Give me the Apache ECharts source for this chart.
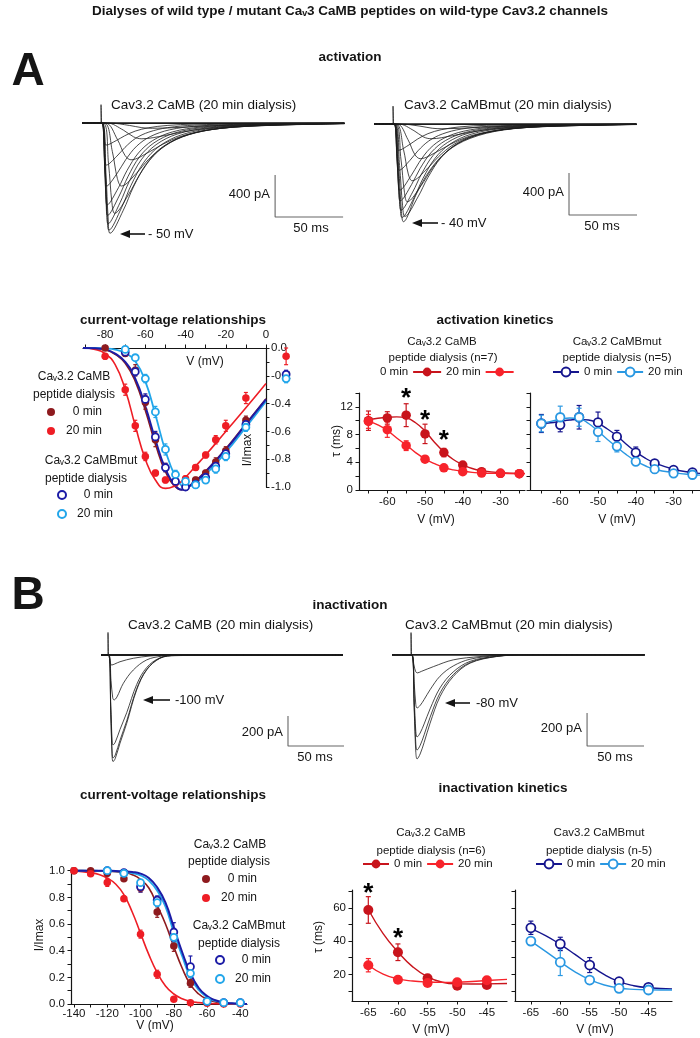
<!DOCTYPE html>
<html><head><meta charset="utf-8">
<script src="https://cdn.jsdelivr.net/npm/echarts@6.0.0/dist/echarts.min.js"></script>
<style>html,body{margin:0;padding:0;background:#fff}#c{width:700px;height:1038px}</style>
</head><body><div id="c"></div>
<script>
// ---------------- DATA ----------------
// Panel A traces, left (Cav3.2 CaMB), [time ms, current pA]
const trAL_m75 = [[-14,0],[6,0],[21,-23],[30,-44],[38,-50],[60,-40],[76,-29],[97,-18],[124,-11],[162,-5],[179,-4]];
const trAL_m70 = [[-14,0],[4.5,0],[16.5,-68],[24,-132],[30,-150],[46.7,-119],[59.2,-87],[75.9,-55],[96.6,-32],[125.9,-16],[167.7,-7],[179,-5]];
const trAL_m65 = [[-14,0],[3.3,0],[12.1,-158],[17.6,-308],[22,-350],[35.2,-277],[45.2,-203],[58.5,-128],[74.9,-75],[98.1,-38],[131.4,-17],[179,-6]];
const trAL_m60 = [[-14,0],[2.3,0],[8.3,-270],[12,-528],[15,-600],[26.3,-474],[34.8,-348],[46.1,-220],[60.1,-129],[79.9,-65],[108.2,-29],[158.8,-11],[179,-5]];
const trAL_m55 = [[-14,0],[1.5,0],[5.5,-387],[8,-757],[10,-860],[20.3,-679],[28.1,-499],[38.4,-315],[51.2,-185],[69.2,-94],[95,-42],[141.3,-15],[179,-4]];
const trAL_m50 = [[-14,0],[1,0],[3.6,-472],[5.3,-924],[6.6,-1050],[16.4,-830],[23.8,-609],[33.6,-384],[45.8,-226],[63,-114],[87.6,-51],[131.6,-19],[179,-5]];
const trAL_m45 = [[-14,0],[0.9,0],[3.2,-459],[4.6,-898],[5.8,-1020],[15.1,-806],[22.1,-592],[31.5,-373],[43,-219],[59.4,-111],[82.8,-50],[124.6,-18],[179,-4]];
const trAL_m40 = [[-14,0],[0.8,0],[2.9,-432],[4.2,-845],[5.2,-960],[14,-758],[20.7,-557],[29.5,-351],[40.5,-206],[56,-105],[78.1,-47],[117.7,-17],[179,-4]];
const trAL_m35 = [[-14,0],[0.7,0],[2.6,-396],[3.8,-774],[4.8,-880],[13.3,-695],[19.8,-510],[28.3,-322],[38.9,-189],[53.9,-96],[75.3,-43],[113.6,-16],[179,-3]];
const trAL_m30 = [[-14,0],[0.7,0],[2.5,-351],[3.6,-686],[4.5,-780],[12.8,-616],[19.1,-452],[27.5,-285],[37.8,-168],[52.4,-85],[73.4,-38],[110.8,-14],[179,-3]];
const trAL_m20 = [[-14,0],[0.6,0],[2.3,-270],[3.3,-528],[4.1,-600],[12.1,-474],[18.2,-348],[26.2,-220],[36.2,-129],[50.3,-65],[70.5,-29],[106.6,-11],[179,-2]];
const trAL_m10 = [[-14,0],[0.6,0],[2.1,-180],[3,-352],[3.8,-400],[11.6,-316],[17.6,-232],[25.4,-146],[35.2,-86],[48.9,-44],[68.6,-20],[103.8,-7],[179,-2]];
const trAL_p0  = [[-14,0],[0.5,0],[1.9,-95],[2.8,-185],[3.5,-210],[11.3,-166],[17.3,-122],[25.1,-77],[34.9,-45],[48.6,-23],[68.3,-10],[103.5,-4],[179,0]];
const trAL_flat = [[-14,0],[179,0]];
const trAL_art = [[0,0],[0,175],[0.4,0]];
// Panel A traces, right (Cav3.2 CaMBmut)
const trAR_m70 = [[-14,0],[5.4,0],[19.8,-20],[28.8,-40],[36,-45],[56.6,-36],[72.1,-26],[92.7,-16],[118.3,-10],[154.4,-5],[179,-3]];
const trAR_m65 = [[-14,0],[4.2,0],[15.4,-63],[22.4,-123],[28,-140],[43.7,-111],[55.5,-81],[71.2,-51],[90.7,-30],[118.2,-15],[157.6,-7],[179,-4]];
const trAR_m60 = [[-14,0],[3,0],[11,-149],[16,-290],[20,-330],[32.7,-261],[42.4,-191],[55.1,-121],[71,-71],[93.3,-36],[125.3,-16],[179,-5]];
const trAR_m55 = [[-14,0],[2.1,0],[7.7,-243],[11.2,-475],[14,-540],[25,-427],[33.3,-313],[44.2,-198],[57.9,-116],[77.2,-59],[104.7,-26],[154,-10],[179,-4]];
const trAR_m50 = [[-14,0],[1.6,0],[5.8,-333],[8.4,-651],[10.5,-740],[20.7,-585],[28.4,-429],[38.6,-271],[51.3,-159],[69.2,-81],[94.7,-36],[140.5,-13],[179,-3]];
const trAR_m45 = [[-14,0],[1.3,0],[4.8,-396],[7,-774],[8.7,-880],[18.3,-695],[25.6,-510],[35.2,-322],[47.1,-189],[64,-96],[88.1,-43],[131.2,-16],[179,-3]];
const trAR_m40 = [[-14,0],[1.1,0],[4.2,-419],[6.1,-818],[7.6,-930],[17.4,-660],[27.2,-438],[39.5,-263],[56.6,-137],[81,-57],[118,-19],[179,-3]];
const trAR_m35 = [[-14,0],[1,0],[3.6,-400],[5.3,-783],[6.6,-890],[15.4,-703],[22.1,-516],[30.9,-326],[41.9,-191],[57.4,-97],[79.5,-44],[119.1,-16],[179,-3]];
const trAR_m30 = [[-14,0],[0.9,0],[3.2,-369],[4.7,-722],[5.9,-820],[14.4,-648],[20.9,-476],[29.4,-300],[40,-176],[55,-89],[76.4,-40],[114.7,-15],[179,-3]];
const trAR_m25 = [[-14,0],[0.8,0],[2.9,-329],[4.2,-642],[5.3,-730],[13.6,-577],[19.9,-423],[28.3,-267],[38.6,-157],[53.2,-80],[74.2,-36],[111.6,-13],[179,-2]];
const trAR_m20 = [[-14,0],[0.7,0],[2.7,-284],[3.9,-554],[4.9,-630],[13,-498],[19.2,-365],[27.3,-231],[37.4,-135],[51.7,-69],[72.1,-31],[108.7,-11],[179,-2]];
const trAR_m10 = [[-14,0],[0.7,0],[2.4,-198],[3.5,-387],[4.4,-440],[12.3,-348],[18.3,-255],[26.3,-161],[36.2,-95],[50.1,-48],[70,-22],[105.7,-8],[179,-1]];
const trAR_p0  = [[-14,0],[0.6,0],[2.2,-113],[3.2,-220],[4,-250],[11.8,-198],[17.8,-145],[25.6,-92],[35.4,-54],[49.1,-27],[68.8,-12],[104,-5],[179,0]];
const trAR_flat = [[-14,0],[179,0]];
const trAR_art = [[0,0],[0,170],[0.4,0]];
// Panel B traces, left
const trBL_1 = [[-6.25,0],[0.5,0],[2.5,-400],[3.7,-680],[4.5,-711],[6.5,-690],[10.7,-589],[16.7,-456],[25.6,-233],[34.5,-100],[46.4,-22],[60,-4],[209.8,0]];
const trBL_2 = [[-6.25,0],[0.5,0],[2.5,-386],[3.7,-657],[4.5,-687],[6.5,-667],[10.7,-569],[16.7,-440],[25.6,-225],[34.5,-97],[46.4,-21],[60,-4],[209.8,0]];
const trBL_3 = [[-6.25,0],[0.5,0],[2.5,-338],[3.7,-574],[4.5,-600],[6.5,-582],[10.7,-497],[16.7,-385],[25.6,-197],[34.5,-84],[46.4,-19],[60,-3],[209.8,0]];
const trBL_4 = [[-6.25,0],[0.5,0],[2.7,-170],[4.2,-285],[5.4,-300],[8,-280],[13.7,-189],[22.6,-100],[34.5,-33],[48,-8],[65,0],[209.8,0]];
const trBL_5 = [[-6.25,0],[0.5,0],[2,-50],[3.3,-67],[6,-60],[10.7,-45],[22.6,-22],[37.5,-7],[55,0],[209.8,0]];
const trBL_flat = [[-6.25,0],[209.8,0]];
const trBL_art = [[0,0],[0,150],[0.4,0]];
// Panel B traces, right
const trBR_1 = [[-16.7,0],[0.5,0],[2.8,-340],[4.2,-590],[5.3,-630],[8,-600],[11.5,-530],[16.7,-414],[25.4,-253],[37,-131],[51.8,-50],[75,-10],[100,0],[205,0]];
const trBR_2 = [[-16.7,0],[0.5,0],[2.8,-311],[4.2,-539],[5.3,-576],[8,-548],[11.5,-484],[16.7,-378],[25.4,-231],[37,-120],[51.8,-46],[75,-9],[100,0],[205,0]];
const trBR_3 = [[-16.7,0],[0.5,0],[2.8,-268],[4.2,-465],[5.3,-497],[8,-473],[11.5,-418],[16.7,-327],[25.4,-200],[37,-103],[51.8,-39],[75,-8],[100,0],[205,0]];
const trBR_4 = [[-16.7,0],[0.5,0],[2.8,-173],[4.2,-301],[5.3,-321],[8,-306],[11.5,-270],[16.7,-211],[25.4,-129],[37,-67],[51.8,-26],[75,-5],[100,0],[205,0]];
const trBR_5 = [[-16.7,0],[0.5,0],[2.5,-60],[4,-100],[5.5,-109],[9,-100],[19.6,-71],[37,-30],[60.5,-10],[85,0],[205,0]];
const trBR_flat = [[-16.7,0],[205,0]];
const trBR_art = [[0,0],[0,135],[0.4,0]];
// scale bars (pA, ms)
const scaleA_pA = 400, scaleB_pA = 200, scale_ms = 50;

// IV activation (A)
const ivA_V = [-80,-70,-65,-60,-55,-50,-45,-40,-35,-30,-25,-20,-10,10];
const ivA_camb0 = [0.0,-0.04,-0.16,-0.39,-0.66,-0.86,-0.96,-1.0,-0.95,-0.90,-0.82,-0.74,-0.52,-0.20];
const ivA_camb0_err = [0.01,0.02,0.04,0.05,0.05,0.03,0.02,0.02,0.02,0.02,0.03,0.03,0.03,0.03];
const ivA_camb20 = [-0.06,-0.30,-0.56,-0.78,-0.90,-0.95,-0.97,-0.94,-0.86,-0.77,-0.66,-0.56,-0.36,-0.06];
const ivA_camb20_err = [0.02,0.04,0.04,0.03,0.02,0.02,0.02,0.02,0.02,0.02,0.03,0.04,0.04,0.06];
const ivA_Vmut = [-70,-65,-60,-55,-50,-45,-40,-35,-30,-25,-20,-10,10];
const ivA_mut0 = [-0.03,-0.17,-0.37,-0.64,-0.86,-0.96,-1.0,-0.98,-0.93,-0.85,-0.76,-0.55,-0.19];
const ivA_mut0_err = [0.02,0.03,0.04,0.04,0.03,0.02,0.02,0.02,0.02,0.02,0.02,0.03,0.03];
const ivA_mut20 = [-0.01,-0.07,-0.22,-0.46,-0.73,-0.91,-0.96,-0.985,-0.95,-0.87,-0.78,-0.57,-0.22];
const ivA_mut20_err = [0.02,0.02,0.03,0.04,0.04,0.03,0.02,0.02,0.02,0.03,0.03,0.03,0.03];
const ivA_fitV = [-91,-85,-80,-75,-70,-65,-60,-55,-50,-45,-42,-40,-35,-30,-20,-10,0];
const ivA_fit_camb20 = [0,-0.01,-0.04,-0.12,-0.30,-0.56,-0.80,-0.95,-1.01,-0.99,-0.96,-0.93,-0.85,-0.77,-0.6,-0.43,-0.255];
const ivA_fit_camb0 = [0,-0.003,-0.012,-0.045,-0.11,-0.24,-0.45,-0.69,-0.89,-1.0,-1.02,-1.01,-0.955,-0.885,-0.725,-0.545,-0.365];
const ivA_fit_mut0 = [0,-0.002,-0.01,-0.04,-0.10,-0.22,-0.42,-0.66,-0.87,-0.99,-1.02,-1.01,-0.96,-0.89,-0.73,-0.55,-0.37];
const ivA_fit_mut20 = [0,0,-0.003,-0.012,-0.035,-0.095,-0.24,-0.48,-0.74,-0.93,-0.99,-1.0,-0.97,-0.91,-0.75,-0.57,-0.385];
const ivA_xticks = [-90,-80,-70,-60,-50,-40,-30,-20,-10,0];
const ivA_xlabels = [-80,-60,-40,-20,0];
const ivA_yticks = [-1,-0.9,-0.8,-0.7,-0.6,-0.5,-0.4,-0.3,-0.2,-0.1,0];
const ivA_ylabels = [-1,-0.8,-0.6,-0.4,-0.2,0];

// activation kinetics (A)
const kA_V = [-65,-60,-55,-50,-45,-40,-35,-30,-25];
const kA_camb0 = [10.0,10.4,10.8,8.1,5.4,3.6,2.65,2.4,2.35];
const kA_camb0_err = [1.4,0.9,1.65,1.4,0.6,0.3,0.3,0.2,0.2];
const kA_camb20 = [9.9,8.7,6.4,4.45,3.2,2.65,2.45,2.4,2.35];
const kA_camb20_err = [1.0,1.1,0.7,0.4,0.3,0.2,0.2,0.2,0.2];
const kA_mut0 = [9.6,9.4,10.5,9.75,7.7,5.4,3.85,2.9,2.55];
const kA_mut0_err = [1.3,1.0,1.7,1.5,0.9,0.8,0.3,0.3,0.2];
const kA_mut20 = [9.6,10.5,10.5,8.4,6.3,4.1,3.0,2.4,2.2];
const kA_mut20_err = [1.2,1.6,1.3,1.4,0.8,0.4,0.3,0.3,0.2];
const kA_fitV_L = [-65,-62.5,-60,-57.5,-55,-52.5,-50,-47.5,-45,-42.5,-40,-37.5,-35,-30,-25,-23.5];
const kA_fit_camb0 = [10.1,10.35,10.5,10.55,10.4,9.7,8.5,6.9,5.5,4.4,3.65,3.1,2.8,2.5,2.4,2.4];
const kA_fit_camb20 = [9.95,9.4,8.6,7.5,6.5,5.4,4.5,3.8,3.25,2.9,2.7,2.55,2.45,2.4,2.35,2.35];
const kA_fitV_R = [-65,-62.5,-60,-57.5,-55,-52.5,-50,-47.5,-45,-42.5,-40,-37.5,-35,-30,-25,-23];
const kA_fit_mut0 = [9.6,9.7,9.9,10.1,10.2,10.1,9.6,8.8,7.8,6.6,5.5,4.6,3.9,3.0,2.5,2.4];
const kA_fit_mut20 = [9.6,9.9,10.2,10.4,10.3,9.6,8.5,7.3,6.2,5.1,4.2,3.5,3.0,2.5,2.2,2.15];
const kA_stars = [[-55,14.0],[-50,10.9],[-45,8.0]];
const kA_xticks = [-65,-60,-55,-50,-45,-40,-35,-30,-25];
const kA_xlabels = [-60,-50,-40,-30];
const kA_yticks = [0,2,4,6,8,10,12,14];
const kA_ylabels = [0,4,8,12];

// IV inactivation (B)
const ivB_V = [-140,-130,-120,-110,-100,-90,-80,-70,-60,-50,-40];
const ivB_camb0 = [1.0,1.0,0.98,0.94,0.87,0.69,0.435,0.155,0.02,0.01,0.01];
const ivB_camb0_err = [0.01,0.01,0.02,0.02,0.03,0.04,0.04,0.03,0.01,0.01,0.01];
const ivB_camb20 = [1.0,0.977,0.912,0.79,0.524,0.223,0.035,0.01,0.005,0.0,0.0];
const ivB_camb20_err = [0.01,0.01,0.03,0.02,0.03,0.03,0.01,0.01,0.01,0.01,0.01];
const ivB_Vmut = [-120,-110,-100,-90,-80,-70,-60,-50,-40];
const ivB_mut0 = [1.0,0.985,0.88,0.78,0.54,0.28,0.02,0.01,0.01];
const ivB_mut0_err = [0.01,0.02,0.04,0.03,0.07,0.08,0.01,0.01,0.01];
const ivB_mut20 = [1.0,0.98,0.91,0.76,0.50,0.23,0.02,0.01,0.01];
const ivB_mut20_err = [0.01,0.01,0.02,0.03,0.04,0.03,0.01,0.01,0.01];
const ivB_fitV = [-141.8,-135,-130,-125,-120,-115,-110,-105,-100,-95,-90,-85,-80,-75,-70,-65,-60,-55,-50,-45,-40,-36];
const ivB_fit_camb20 = [0.997,0.993,0.985,0.972,0.945,0.90,0.82,0.69,0.53,0.37,0.235,0.135,0.075,0.04,0.02,0.01,0.005,0.002,0.001,0,0,0];
const ivB_fit_camb0 = [1.0,1.0,0.999,0.998,0.996,0.992,0.985,0.97,0.935,0.87,0.74,0.6,0.43,0.27,0.145,0.075,0.035,0.015,0.006,0.002,0,0];
const ivB_fit_mut0 = [1.0,1.0,1.0,1.0,0.999,0.998,0.995,0.99,0.978,0.945,0.875,0.76,0.575,0.39,0.23,0.12,0.06,0.028,0.012,0.005,0.002,0];
const ivB_fit_mut20 = [1.0,1.0,1.0,0.999,0.998,0.995,0.99,0.982,0.965,0.925,0.85,0.73,0.535,0.36,0.2,0.105,0.05,0.023,0.01,0.004,0.001,0];
const ivB_xticks = [-140,-130,-120,-110,-100,-90,-80,-70,-60,-50,-40];
const ivB_xlabels = [-140,-120,-100,-80,-60,-40];
const ivB_yticks = [0,0.1,0.2,0.3,0.4,0.5,0.6,0.7,0.8,0.9,1.0];
const ivB_ylabels = [0,0.2,0.4,0.6,0.8,1.0];

// inactivation kinetics (B)
const kB_V = [-65,-60,-55,-50,-45];
const kB_camb0 = [58.7,33.3,17.7,13.2,13.6];
const kB_camb0_err = [8,5,1.5,1,1];
const kB_camb20 = [25.5,16.8,14.8,15.3,16.5];
const kB_camb20_err = [4,1.5,1.5,1.5,1.5];
const kB_mut0 = [48,38.3,25.6,15.6,12.2];
const kB_mut0_err = [4,4,4.5,1.5,1];
const kB_mut20 = [40,27.3,16.6,11.6,10.6];
const kB_mut20_err = [2,8,1.5,1.5,1];
const kB_fitV_L = [-65,-62.5,-60,-57.5,-55,-52.5,-50,-47.5,-45,-41.6];
const kB_fit_camb0 = [59,44.5,33.5,24.5,18.5,15.3,14.3,14.2,14.3,14.5];
const kB_fit_camb20 = [25.5,20.2,17.3,16.0,15.4,15.2,15.3,15.7,16.3,17.0];
const kB_fitV_R = [-65,-62.5,-60,-57.5,-55,-52.5,-50,-47.5,-45,-41];
const kB_fit_mut0 = [47.5,43.3,38,32,25.7,19.8,15.6,13.2,12,11.3];
const kB_fit_mut20 = [40,33.8,27.5,21.5,16.8,13.6,11.8,11,10.7,10.6];
const kB_stars = [[-65,72.3],[-60,44.7]];
const kB_xticks = [-65,-60,-55,-50,-45];
const kB_yticks = [10,20,30,40,50,60,70];
const kB_ylabels = [20,40,60];

// ---------------- STYLE ----------------
const FONT = '"Liberation Sans", Arial, Helvetica, sans-serif';
const INK = '#151515';
const IV_DR = '#8e1a1e', IV_R = '#ee1d25', IV_DB = '#1c1ca6', IV_LB = '#22a6ea';
const K_DR = '#c8141c', K_R = '#f7232b', K_DB = '#15158e', K_LB = '#2a98e2';

const zip = (xs, ys) => xs.map((x, i) => [x, ys[i]]);
const zip3 = (xs, ys, es) => xs.map((x, i) => [x, ys[i], es[i]]);

function traceS(gi, data, w) {
  return {type:'line', xAxisIndex:gi, yAxisIndex:gi, data, smooth:0.35, symbol:'none', showSymbol:false,
    lineStyle:{color:'#1c1c1c', width:w||0.8, opacity:1}, silent:true, z:2};
}
function scaleBarS(gi, t0, iBottom, ms, pA) {
  return {type:'line', xAxisIndex:gi, yAxisIndex:gi, data:[[t0, iBottom + pA],[t0, iBottom],[t0 + ms, iBottom]],
    symbol:'none', lineStyle:{color:'#666', width:1.1}, silent:true, z:2};
}
function fitS(gi, name, xs, ys, color, sym, w) {
  return {type:'line', name, xAxisIndex:gi, yAxisIndex:gi, data:zip(xs, ys), smooth:0.5, symbol:sym||'circle',
    showSymbol:false, clip:false, lineStyle:{color, width:w||1.5, opacity:1}, itemStyle:{color, opacity:1}, silent:true, z:3};
}
function errS(gi, xs, ys, es, color, cap) {
  return {type:'custom', xAxisIndex:gi, yAxisIndex:gi, data:zip3(xs, ys, es), clip:false, silent:true, z:4,
    renderItem(params, api) {
      const x = api.value(0), y = api.value(1), e = api.value(2);
      const a = api.coord([x, y + e]), b = api.coord([x, y - e]);
      const st = {stroke:color, lineWidth:1.2};
      return {type:'group', children:[
        {type:'line', shape:{x1:a[0], y1:a[1], x2:b[0], y2:b[1]}, style:st},
        {type:'line', shape:{x1:a[0]-cap, y1:a[1], x2:a[0]+cap, y2:a[1]}, style:st},
        {type:'line', shape:{x1:b[0]-cap, y1:b[1], x2:b[0]+cap, y2:b[1]}, style:st}]};
    }};
}
function ptS(gi, name, xs, ys, color, open, size) {
  return {type:'scatter', name, xAxisIndex:gi, yAxisIndex:gi, data:zip(xs, ys), clip:false, symbol:'circle',
    symbolSize:size, silent:true, z:5,
    itemStyle: open ? {color:'#ffffff', borderColor:color, borderWidth:1.8, opacity:1} : {color, borderWidth:0, opacity:1}};
}
function starS(gi, data) {
  return {type:'scatter', xAxisIndex:gi, yAxisIndex:gi, data, symbolSize:0, clip:false, silent:true, z:6,
    itemStyle:{opacity:1},
    label:{show:true, position:'inside', formatter:'*', fontSize:26, fontWeight:'bold', fontFamily:FONT, color:'#000', opacity:1, offset:[0,6]}};
}

function hidAx(gi, min, max) { return {type:'value', gridIndex:gi, min, max, show:false, splitLine:{show:false}}; }
function ax(gi, o) {
  return {type:'value', gridIndex:gi, min:o.min, max:o.max, position:o.pos,
    axisLine:{show:true, onZero:false, lineStyle:{color:INK, width:1.2}},
    axisTick:{show:true, inside:false, length:3.5, customValues:o.ticks, lineStyle:{color:INK, width:1}},
    axisLabel:{show:!!o.labels, customValues:o.labels, margin:o.margin || 6, fontSize:11.5, fontFamily:FONT, color:INK,
      formatter:o.dec ? (v => Number(v).toFixed(1)) : (v => String(v))},
    splitLine:{show:false}, minorTick:{show:false}};
}

// ---------------- SERIES ----------------
const series = [];
[trAL_flat, trAL_m75, trAL_m70, trAL_m65, trAL_m60, trAL_m55, trAL_m50, trAL_m45, trAL_m40, trAL_m35, trAL_m30, trAL_m20, trAL_m10, trAL_p0, trAL_art]
  .forEach((d, i) => series.push(traceS(0, d, i === 0 ? 1.8 : 0.8)));
[trAR_flat, trAR_m70, trAR_m65, trAR_m60, trAR_m55, trAR_m50, trAR_m45, trAR_m40, trAR_m35, trAR_m30, trAR_m25, trAR_m20, trAR_m10, trAR_p0, trAR_art]
  .forEach((d, i) => series.push(traceS(1, d, i === 0 ? 1.8 : 0.8)));
[trBL_flat, trBL_1, trBL_2, trBL_3, trBL_4, trBL_5, trBL_art].forEach((d, i) => series.push(traceS(5, d, i === 0 ? 1.8 : 0.8)));
[trBR_flat, trBR_1, trBR_2, trBR_3, trBR_4, trBR_5, trBR_art].forEach((d, i) => series.push(traceS(6, d, i === 0 ? 1.8 : 0.8)));
series.push(scaleBarS(0, 128, -895, scale_ms, scaleA_pA));
series.push(scaleBarS(1, 129.4, -866, scale_ms, scaleA_pA));
series.push(scaleBarS(5, 160.7, -607, scale_ms, scaleB_pA));
series.push(scaleBarS(6, 154.4, -551.5, scale_ms, scaleB_pA));

// IV A
series.push(fitS(2, 'fA1', ivA_fitV, ivA_fit_camb0, IV_DR, 'circle', 1.6));
series.push(fitS(2, 'fA2', ivA_fitV, ivA_fit_camb20, IV_R, 'circle', 1.6));
series.push(fitS(2, 'fA3', ivA_fitV, ivA_fit_mut20, IV_LB, 'circle', 1.8));
series.push(fitS(2, 'fA4', ivA_fitV, ivA_fit_mut0, IV_DB, 'circle', 2));
series.push(errS(2, ivA_V, ivA_camb0, ivA_camb0_err, IV_DR, 2));
series.push(errS(2, ivA_V, ivA_camb20, ivA_camb20_err, IV_R, 2));
series.push(errS(2, ivA_Vmut, ivA_mut0, ivA_mut0_err, IV_DB, 2));
series.push(errS(2, ivA_Vmut, ivA_mut20, ivA_mut20_err, IV_LB, 2));
series.push(ptS(2, '  0 min#ivA0', ivA_V, ivA_camb0, IV_DR, false, 7.5));
series.push(ptS(2, '20 min#ivA20', ivA_V, ivA_camb20, IV_R, false, 7.5));
series.push(ptS(2, '  0 min#ivAm0', ivA_Vmut, ivA_mut0, IV_DB, true, 7));
series.push(ptS(2, '20 min#ivAm20', ivA_Vmut, ivA_mut20, IV_LB, true, 7));

// kinetics A
series.push(fitS(3, '0 min#kA0', kA_fitV_L, kA_fit_camb0, K_DR, 'circle', 1.4));
series.push(fitS(3, '20 min#kA20', kA_fitV_L, kA_fit_camb20, K_R, 'circle', 1.4));
series.push(errS(3, kA_V, kA_camb0, kA_camb0_err, K_DR, 2.5));
series.push(errS(3, kA_V, kA_camb20, kA_camb20_err, K_R, 2.5));
series.push(ptS(3, 'pA0', kA_V, kA_camb0, K_DR, false, 9.5));
series.push(ptS(3, 'pA20', kA_V, kA_camb20, K_R, false, 9.5));
series.push(starS(3, kA_stars));
series.push(fitS(4, '0 min#kAm0', kA_fitV_R, kA_fit_mut0, K_DB, 'emptyCircle', 1.4));
series.push(fitS(4, '20 min#kAm20', kA_fitV_R, kA_fit_mut20, K_LB, 'emptyCircle', 1.4));
series.push(errS(4, kA_V, kA_mut0, kA_mut0_err, K_DB, 2.5));
series.push(errS(4, kA_V, kA_mut20, kA_mut20_err, K_LB, 2.5));
series.push(ptS(4, 'pAm0', kA_V, kA_mut0, K_DB, true, 8.5));
series.push(ptS(4, 'pAm20', kA_V, kA_mut20, K_LB, true, 8.5));

// IV B
series.push(fitS(7, 'fB1', ivB_fitV, ivB_fit_camb0, IV_DR, 'circle', 1.6));
series.push(fitS(7, 'fB2', ivB_fitV, ivB_fit_camb20, IV_R, 'circle', 1.6));
series.push(fitS(7, 'fB3', ivB_fitV, ivB_fit_mut20, IV_LB, 'circle', 1.8));
series.push(fitS(7, 'fB4', ivB_fitV, ivB_fit_mut0, IV_DB, 'circle', 2));
series.push(errS(7, ivB_V, ivB_camb0, ivB_camb0_err, IV_DR, 2));
series.push(errS(7, ivB_V, ivB_camb20, ivB_camb20_err, IV_R, 2));
series.push(errS(7, ivB_Vmut, ivB_mut0, ivB_mut0_err, IV_DB, 2));
series.push(errS(7, ivB_Vmut, ivB_mut20, ivB_mut20_err, IV_LB, 2));
series.push(ptS(7, '  0 min#ivB0', ivB_V, ivB_camb0, IV_DR, false, 7.5));
series.push(ptS(7, '20 min#ivB20', ivB_V, ivB_camb20, IV_R, false, 7.5));
series.push(ptS(7, '  0 min#ivBm0', ivB_Vmut, ivB_mut0, IV_DB, true, 7));
series.push(ptS(7, '20 min#ivBm20', ivB_Vmut, ivB_mut20, IV_LB, true, 7));

// kinetics B
series.push(fitS(8, '0 min#kB0', kB_fitV_L, kB_fit_camb0, K_DR, 'circle', 1.4));
series.push(fitS(8, '20 min#kB20', kB_fitV_L, kB_fit_camb20, K_R, 'circle', 1.4));
series.push(errS(8, kB_V, kB_camb0, kB_camb0_err, K_DR, 2.5));
series.push(errS(8, kB_V, kB_camb20, kB_camb20_err, K_R, 2.5));
series.push(ptS(8, 'pB0', kB_V, kB_camb0, K_DR, false, 10));
series.push(ptS(8, 'pB20', kB_V, kB_camb20, K_R, false, 10));
series.push(starS(8, kB_stars));
series.push(fitS(9, '0 min#kBm0', kB_fitV_R, kB_fit_mut0, K_DB, 'emptyCircle', 1.4));
series.push(fitS(9, '20 min#kBm20', kB_fitV_R, kB_fit_mut20, K_LB, 'emptyCircle', 1.4));
series.push(errS(9, kB_V, kB_mut0, kB_mut0_err, K_DB, 2.5));
series.push(errS(9, kB_V, kB_mut20, kB_mut20_err, K_LB, 2.5));
series.push(ptS(9, 'pBm0', kB_V, kB_mut0, K_DB, true, 9));
series.push(ptS(9, 'pBm20', kB_V, kB_mut20, K_LB, true, 9));

// ---------------- TEXT / ANNOTATION ----------------
const G = [];
function T(x, y, text, size, o) {
  o = o || {};
  G.push({type:'text', x, y, rotation:o.rot || 0, silent:true,
    style:{text, x:0, y:0, textAlign:o.align || 'center', textVerticalAlign:'middle',
      font:(o.bold ? 'bold ' : '') + size + 'px ' + FONT, fill:INK}});
}
function arrow(xHead, xTail, y) {
  G.push({type:'line', silent:true, shape:{x1:xHead + 8, y1:y, x2:xTail, y2:y}, style:{stroke:INK, lineWidth:1.6}});
  G.push({type:'polygon', silent:true, shape:{points:[[xHead, y], [xHead + 10, y - 4], [xHead + 10, y + 4]]}, style:{fill:INK}});
}
T(350, 11, 'Dialyses of wild type / mutant Caᵥ3 CaMB peptides on wild-type Cav3.2 channels', 13.5, {bold:true});
T(28, 72, 'A', 46, {bold:true});
T(350, 57, 'activation', 13.5, {bold:true});
T(111, 105, 'Cav3.2 CaMB (20 min dialysis)', 13.5, {align:'left'});
T(404, 105, 'Cav3.2 CaMBmut (20 min dialysis)', 13.5, {align:'left'});
arrow(120, 145, 234); T(148, 234, '- 50 mV', 13, {align:'left'});
arrow(412, 438, 223); T(441, 223, '- 40 mV', 13, {align:'left'});
T(270, 194, '400 pA', 13, {align:'right'}); T(311, 228, '50 ms', 13);
T(564, 192, '400 pA', 13, {align:'right'}); T(602, 226, '50 ms', 13);
T(173, 320, 'current-voltage relationships', 13.5, {bold:true});
T(495, 320, 'activation kinetics', 13.5, {bold:true});
// IV A labels
T(205, 362, 'V (mV)', 12);
T(248, 450, 'I/Imax', 12, {rot:Math.PI / 2});
T(74, 377, 'Caᵥ3.2 CaMB', 12);
T(74, 395, 'peptide dialysis', 12);
T(91, 461, 'Caᵥ3.2 CaMBmut', 12);
T(86, 479, 'peptide dialysis', 12);
// kinetics A labels
T(442, 342, 'Caᵥ3.2 CaMB', 11.5);
T(443, 358, 'peptide dialysis (n=7)', 11.5);
T(617, 342, 'Caᵥ3.2 CaMBmut', 11.5);
T(617, 358, 'peptide dialysis (n=5)', 11.5);
T(337, 441, 'τ (ms)', 12, {rot:Math.PI / 2});
T(436, 520, 'V (mV)', 12);
T(617, 520, 'V (mV)', 12);
// Panel B
T(28, 596, 'B', 46, {bold:true});
T(350, 605, 'inactivation', 13.5, {bold:true});
T(128, 625, 'Cav3.2 CaMB (20 min dialysis)', 13.5, {align:'left'});
T(405, 625, 'Cav3.2 CaMBmut (20 min dialysis)', 13.5, {align:'left'});
arrow(143, 170, 700); T(175, 700, '-100 mV', 13, {align:'left'});
arrow(445, 470, 703); T(476, 703, '-80 mV', 13, {align:'left'});
T(283, 732, '200 pA', 13, {align:'right'}); T(315, 757, '50 ms', 13);
T(582, 728, '200 pA', 13, {align:'right'}); T(615, 757, '50 ms', 13);
T(173, 795, 'current-voltage relationships', 13.5, {bold:true});
T(503, 788, 'inactivation kinetics', 13.5, {bold:true});
T(155, 1026, 'V (mV)', 12);
T(40, 935, 'I/Imax', 12, {rot:Math.PI / 2});
T(230, 845, 'Caᵥ3.2 CaMB', 12);
T(229, 862, 'peptide dialysis', 12);
T(239, 926, 'Caᵥ3.2 CaMBmut', 12);
T(239, 944, 'peptide dialysis', 12);
T(431, 833, 'Caᵥ3.2 CaMB', 11.5);
T(431, 851, 'peptide dialysis (n=6)', 11.5);
T(599, 833, 'Cav3.2 CaMBmut', 11.5);
T(599, 851, 'peptide dialysis (n-5)', 11.5);
T(319, 937, 'τ (ms)', 12, {rot:Math.PI / 2});
T(431, 1030, 'V (mV)', 12);
T(595, 1030, 'V (mV)', 12);

// ---------------- LEGENDS ----------------
const stripName = n => n.split('#')[0];
const legTxt = {fontSize:12, fontFamily:FONT, color:INK};
const kTxt = {fontSize:11.5, fontFamily:FONT, color:INK};
function leg(left, top, names, o) {
  return Object.assign({left, top, padding:0, data:names, formatter:stripName, selectedMode:false,
    textStyle:legTxt, orient:'vertical', itemWidth:20, itemHeight:8, itemGap:7,
    itemStyle:{opacity:1}}, o || {});
}
const legends = [
  leg(47, 406, ['  0 min#ivA0', '20 min#ivA20']),
  leg(57, 489, ['  0 min#ivAm0', '20 min#ivAm20']),
  leg(380, 366, ['0 min#kA0', '20 min#kA20'], {orient:'horizontal', align:'right', itemWidth:28, itemHeight:11, itemGap:4, textStyle:kTxt}),
  leg(552, 366, ['0 min#kAm0', '20 min#kAm20'], {orient:'horizontal', align:'left', itemWidth:26, itemHeight:11, itemGap:4, textStyle:kTxt}),
  leg(362, 858, ['0 min#kB0', '20 min#kB20'], {orient:'horizontal', align:'left', itemWidth:26, itemHeight:11, itemGap:4, textStyle:kTxt}),
  leg(535, 858, ['0 min#kBm0', '20 min#kBm20'], {orient:'horizontal', align:'left', itemWidth:26, itemHeight:11, itemGap:4, textStyle:kTxt}),
  leg(202, 873, ['  0 min#ivB0', '20 min#ivB20']),
  leg(215, 954, ['  0 min#ivBm0', '20 min#ivBm20'])
];

// ---------------- LAYOUT ----------------
const g = (left, top, width, height) => ({left, top, width, height, containLabel:false, outerBoundsMode:'none'});
const option = {
  animation:false,
  backgroundColor:'#ffffff',
  grid:[g(82,95,263,155), g(374,96,263,155), g(83,348,183,139), g(359,393,166,97), g(530,393,170,97),
        g(101,628,244,140), g(392,628,254,140), g(71,868,176,136), g(352,890,155,111), g(515,890,157,111)],
  xAxis:[
    hidAx(0,-14,179.4), hidAx(1,-14,179.4),
    ax(2,{min:-91,max:0,pos:'top',ticks:ivA_xticks,labels:ivA_xlabels,margin:7}),
    ax(3,{min:-67.5,max:-23.5,pos:'bottom',ticks:kA_xticks,labels:kA_xlabels}),
    ax(4,{min:-68,max:-23,pos:'bottom',ticks:kA_xticks,labels:kA_xlabels}),
    hidAx(5,-6.25,211.6), hidAx(6,-16.7,206.1),
    ax(7,{min:-141.8,max:-36,pos:'bottom',ticks:ivB_xticks,labels:ivB_xlabels,margin:4}),
    ax(8,{min:-67.75,max:-41.6,pos:'bottom',ticks:kB_xticks,labels:kB_xticks}),
    ax(9,{min:-67.7,max:-41,pos:'bottom',ticks:kB_xticks,labels:kB_xticks})
  ],
  yAxis:[
    hidAx(0,-1209,267), hidAx(1,-1209,267),
    ax(2,{min:-1,max:0,pos:'right',ticks:ivA_yticks,labels:ivA_ylabels,dec:true,margin:5}),
    ax(3,{min:0,max:14,pos:'left',ticks:kA_yticks,labels:kA_ylabels}),
    ax(4,{min:0,max:14,pos:'left',ticks:kA_yticks,labels:null}),
    hidAx(5,-754,180), hidAx(6,-685,163),
    ax(7,{min:0,max:1.02,pos:'left',ticks:ivB_yticks,labels:ivB_ylabels,dec:true,margin:6}),
    ax(8,{min:4,max:70.7,pos:'left',ticks:kB_yticks,labels:kB_ylabels}),
    ax(9,{min:4,max:70.7,pos:'left',ticks:kB_yticks,labels:null})
  ],
  legend:legends,
  series,
  graphic:{elements:G}
};
const chart = echarts.init(document.getElementById('c'), null, {renderer:'canvas'});
chart.setOption(option);
</script></body></html>
